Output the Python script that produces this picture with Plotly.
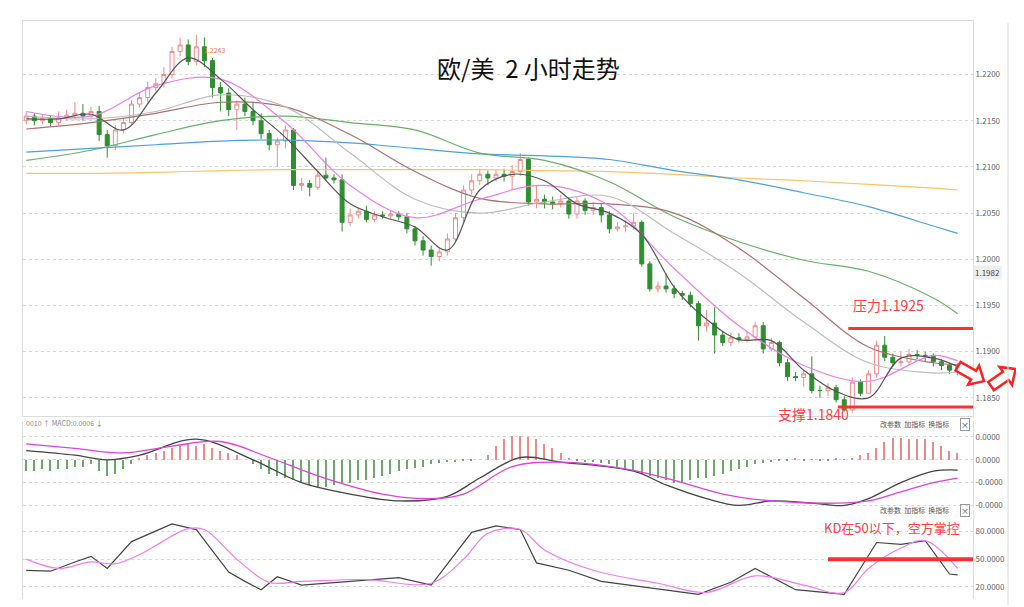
import math
import plotly.graph_objects as go

# --- candles (2h EUR/USD), open = previous close ---
closes = [1.2155, 1.2150, 1.2152, 1.2148, 1.2153, 1.2156, 1.2158, 1.2155, 1.2160, 1.2135,
          1.2123, 1.2140, 1.2148, 1.2168, 1.2175, 1.2186, 1.2190, 1.2200, 1.2225, 1.2232,
          1.2214, 1.2230, 1.2215, 1.2186, 1.2180, 1.2162, 1.2168, 1.2160, 1.2150, 1.2136,
          1.2124, 1.2128, 1.2140, 1.2080, 1.2082, 1.2078, 1.2091, 1.2088, 1.2086, 1.2040,
          1.2048, 1.2052, 1.2043, 1.2048, 1.2047, 1.2049, 1.2046, 1.2033, 1.2020, 1.2010,
          1.2003, 1.2008, 1.2022, 1.2045, 1.2075, 1.2085, 1.2092, 1.2088, 1.2092, 1.2090,
          1.2095, 1.2108, 1.2062, 1.2065, 1.2062, 1.2060, 1.2063, 1.2049, 1.2063, 1.2053,
          1.2056, 1.2048, 1.2033, 1.2035, 1.2036, 1.2040, 1.1995, 1.1968, 1.1971, 1.1968,
          1.1963, 1.1961, 1.1952, 1.1928, 1.1931, 1.1918, 1.1910, 1.1915, 1.1913, 1.1916,
          1.1928, 1.1903, 1.1910, 1.1888, 1.1873, 1.1872, 1.1876, 1.1858, 1.1858, 1.1861,
          1.1848, 1.1837, 1.1867, 1.1855, 1.1876, 1.1907, 1.1894, 1.1888, 1.1889, 1.1897,
          1.1896, 1.1895, 1.1889, 1.1885, 1.1880, 1.1884]
highs = [1.2160, 1.2158, 1.2156, 1.2155, 1.2160, 1.2162, 1.2170, 1.2168, 1.2165, 1.2166,
         1.2140, 1.2145, 1.2152, 1.2172, 1.2180, 1.2192, 1.2196, 1.2208, 1.2230, 1.2240,
         1.2238, 1.2243, 1.2240, 1.2218, 1.2192, 1.2185, 1.2172, 1.2175, 1.2170, 1.2158,
         1.2140, 1.2132, 1.2145, 1.2142, 1.2088, 1.2086, 1.2095, 1.2110, 1.2092, 1.2092,
         1.2055, 1.2056, 1.2058, 1.2052, 1.2052, 1.2053, 1.2052, 1.2050, 1.2036, 1.2025,
         1.2015, 1.2012, 1.2028, 1.2050, 1.2080, 1.2092, 1.2098, 1.2096, 1.2097, 1.2098,
         1.2102, 1.2115, 1.2110, 1.2080, 1.2070, 1.2068, 1.2070, 1.2066, 1.2067, 1.2066,
         1.2062, 1.2060, 1.2052, 1.2040, 1.2042, 1.2050, 1.2042, 1.1998, 1.1976, 1.1985,
         1.1972, 1.1966, 1.1965, 1.1955, 1.1945, 1.1948, 1.1922, 1.1920, 1.1920, 1.1922,
         1.1932, 1.1932, 1.1915, 1.1912, 1.1892, 1.1878, 1.1880, 1.1895, 1.1863, 1.1866,
         1.1864, 1.1852, 1.1872, 1.1870, 1.1880, 1.1912, 1.1917, 1.1898, 1.1900, 1.1903,
         1.1902, 1.1900, 1.1898, 1.1892, 1.1888, 1.1888]
lows = [1.2146, 1.2145, 1.2146, 1.2144, 1.2145, 1.2150, 1.2152, 1.2150, 1.2152, 1.2128,
        1.2110, 1.2118, 1.2136, 1.2145, 1.2164, 1.2170, 1.2182, 1.2186, 1.2196, 1.2220,
        1.2210, 1.2210, 1.2208, 1.2175, 1.2160, 1.2155, 1.2140, 1.2155, 1.2145, 1.2130,
        1.2118, 1.2100, 1.2120, 1.2075, 1.2074, 1.2068, 1.2075, 1.2085, 1.2082, 1.2030,
        1.2036, 1.2044, 1.2040, 1.2040, 1.2044, 1.2044, 1.2042, 1.2028, 1.2015, 1.2004,
        1.1993, 1.1998, 1.2004, 1.2018, 1.2040, 1.2070, 1.2080, 1.2080, 1.2084, 1.2084,
        1.2075, 1.2090, 1.2058, 1.2055, 1.2055, 1.2054, 1.2056, 1.2044, 1.2044, 1.2048,
        1.2048, 1.2040, 1.2028, 1.2030, 1.2030, 1.2032, 1.1992, 1.1965, 1.1964, 1.1964,
        1.1958, 1.1956, 1.1948, 1.1912, 1.1922, 1.1898, 1.1906, 1.1906, 1.1910, 1.1910,
        1.1912, 1.1898, 1.1900, 1.1884, 1.1868, 1.1868, 1.1862, 1.1855, 1.1850, 1.1852,
        1.1845, 1.1835, 1.1834, 1.1852, 1.1854, 1.1872, 1.1890, 1.1884, 1.1884, 1.1886,
        1.1892, 1.1890, 1.1884, 1.1880, 1.1876, 1.1874]
opens = [1.2150] + closes[:-1]
idx = list(range(len(closes)))

# --- moving averages read at sample candles ---
ma_idx = [0, 8, 16, 24, 32, 40, 48, 56, 64, 72, 80, 88, 96, 104, 112, 115]
ma_orange = [1.2093, 1.2093, 1.2094, 1.2096, 1.2097, 1.2097, 1.2097, 1.2097, 1.2096, 1.2095,
             1.2092, 1.2088, 1.2085, 1.2081, 1.2077, 1.2075]
ma_blue = [1.2116, 1.2120, 1.2124, 1.2128, 1.2129, 1.2126, 1.2120, 1.2114, 1.2112, 1.2108,
           1.2096, 1.2086, 1.2072, 1.2057, 1.2036, 1.2028]
ma_green = [1.2107, 1.2118, 1.2135, 1.2150, 1.2155, 1.2148, 1.2140, 1.2115, 1.2107, 1.2084,
            1.2046, 1.2019, 1.1999, 1.1987, 1.1958, 1.1941]
ma_brown = [1.2141, 1.2148, 1.2158, 1.2170, 1.2165, 1.2135, 1.2095, 1.2066, 1.2060, 1.2060,
            1.2050, 1.2012, 1.1958, 1.1905, 1.1888, 1.1886]
ma_grey = [1.2155, 1.2152, 1.2160, 1.2178, 1.2165, 1.2115, 1.2065, 1.2050, 1.2062, 1.2068,
           1.2028, 1.1985, 1.1932, 1.1888, 1.1877, 1.1878]
ma_pink = [1.2160, 1.2155, 1.2188, 1.2195, 1.2148, 1.2080, 1.2045, 1.2065, 1.2080, 1.2058,
           1.1990, 1.1928, 1.1885, 1.1868, 1.1896, 1.1890]
ma5_idx = [0, 4, 8, 12, 16, 20, 24, 28, 32, 36, 40, 44, 48, 52, 56, 60, 64, 68, 72, 76,
           80, 84, 88, 92, 96, 100, 104, 108, 112, 115]
ma5 = [1.2152, 1.2152, 1.2157, 1.2140, 1.2180, 1.2218, 1.2195, 1.2162, 1.2132, 1.2095,
       1.2060, 1.2046, 1.2035, 1.2010, 1.2075, 1.2092, 1.2085, 1.2060, 1.2050, 1.2027,
       1.1970, 1.1935, 1.1913, 1.1912, 1.1880, 1.1857, 1.1850, 1.1893, 1.1893, 1.1884]

# --- MACD (scaled units) ---
dif_idx = [0, 6, 10, 14, 21, 28, 34, 40, 46, 52, 56, 61, 66, 75, 79, 84, 88, 92, 97, 101,
           104, 108, 112, 115]
dif = [0.4, 0.2, 0.0, 0.2, 0.9, 0.0, -1.0, -1.5, -1.8, -1.6, -0.8, 0.1, -0.1, -0.5, -1.1,
       -1.7, -2.0, -1.8, -1.9, -2.0, -1.7, -1.0, -0.5, -0.45]
dea_idx = [0, 6, 12, 18, 24, 30, 36, 44, 50, 54, 60, 66, 74, 80, 86, 92, 100, 104, 108,
           112, 115]
dea = [0.7, 0.5, 0.3, 0.6, 0.8, 0.1, -0.7, -1.5, -1.7, -1.5, -0.3, -0.1, -0.4, -0.9, -1.5,
       -1.8, -1.9, -1.8, -1.4, -1.0, -0.8]
macd_hist = [-0.5, -0.5, -0.4, -0.5, -0.4, -0.4, -0.3, -0.3, -0.2, -0.5, -0.7, -0.6, -0.4, -0.2,
             0.1, 0.2, 0.3, 0.4, 0.5, 0.6, 0.7, 0.6, 0.7, 0.5, 0.4, 0.3, 0.2, 0.0,
             -0.2, -0.4, -0.6, -0.7, -0.8, -0.9, -1.0, -1.1, -1.2, -1.2, -1.1, -1.0, -1.0, -0.9,
             -0.9, -0.8, -0.7, -0.6, -0.5, -0.4, -0.35, -0.3, -0.2, -0.15, -0.1, -0.1, -0.05,
             -0.05, 0.0,
             0.2, 0.6, 0.9, 1.05, 1.05, 1.0, 0.9, 0.7, 0.5, 0.3, 0.1,
             -0.05, -0.1, -0.1, -0.15, -0.2, -0.3, -0.4, -0.5, -0.6, -0.7, -0.8, -0.9, -1.0,
             -1.0, -0.9, -0.8, -0.8, -0.7, -0.6, -0.5, -0.4, -0.3, -0.2, -0.15, -0.1, -0.05,
             -0.05, 0.05, -0.05, 0.02,
             -0.05, -0.05, 0.05, 0.02, 0.1, 0.2, 0.3,
             0.5, 0.8, 0.95, 0.95, 0.9, 0.9, 0.9, 0.8, 0.6, 0.4, 0.3]

# --- KD ---
k_idx = [0, 3, 6, 8, 10, 13, 18, 21, 25, 27, 29, 31, 34, 40, 46, 50, 55, 58, 61, 63, 67,
         71, 79, 83, 87, 90, 95, 101, 105, 108, 111, 114, 115]
k_val = [38, 37, 47, 53, 40, 69, 88, 82, 36, 26, 17, 31, 22, 26, 30, 22, 79, 86, 82, 46, 38,
         26, 17, 12, 25, 40, 17, 12, 68, 66, 70, 34, 33]
d_idx = [0, 4, 8, 11, 14, 20, 22, 26, 30, 34, 42, 50, 54, 57, 61, 64, 70, 78, 84, 90, 96,
         101, 104, 108, 111, 115]
d_val = [50, 40, 47, 45, 55, 83, 82, 50, 25, 26, 28, 24, 50, 78, 82, 60, 38, 24, 14, 32, 22,
         14, 40, 62, 70, 40]

price_ticks = [1.1850, 1.1900, 1.1950, 1.2000, 1.2050, 1.2100, 1.2150, 1.2200]

fig = go.Figure()
fig.add_trace(go.Candlestick(
    x=idx, open=opens, high=highs, low=lows, close=closes, xaxis="x", yaxis="y",
    increasing=dict(line=dict(color="#f08a8a", width=1), fillcolor="white"),
    decreasing=dict(line=dict(color="#2f8f2f", width=1), fillcolor="#2f8f2f"),
    whiskerwidth=0, showlegend=False))

for xs, ys, col in [(ma_idx, ma_orange, "#ffc266"), (ma_idx, ma_blue, "#4aa3df"),
                    (ma_idx, ma_green, "#66b266"), (ma_idx, ma_brown, "#b07070"),
                    (ma_idx, ma_grey, "#bdbdbd"), (ma_idx, ma_pink, "#f07cf0"),
                    (ma5_idx, ma5, "#555555")]:
    fig.add_trace(go.Scatter(x=xs, y=ys, mode="lines", line=dict(color=col, width=1.2, shape="spline"),
                             xaxis="x", yaxis="y", showlegend=False, hoverinfo="skip"))

fig.add_trace(go.Bar(x=idx, y=macd_hist, width=0.18, xaxis="x", yaxis="y2",
                     marker=dict(color=["#f08a8a" if v > 0 else "#6aaa6a" for v in macd_hist], line_width=0),
                     showlegend=False))
fig.add_trace(go.Scatter(x=dif_idx, y=dif, mode="lines", line=dict(color="#444444", width=1.3, shape="spline"),
                         xaxis="x", yaxis="y2", showlegend=False))
fig.add_trace(go.Scatter(x=dea_idx, y=dea, mode="lines", line=dict(color="#e040e0", width=1.3, shape="spline"),
                         xaxis="x", yaxis="y2", showlegend=False))
fig.add_trace(go.Scatter(x=k_idx, y=k_val, mode="lines", line=dict(color="#444444", width=1.2),
                         xaxis="x", yaxis="y3", showlegend=False))
fig.add_trace(go.Scatter(x=d_idx, y=d_val, mode="lines", line=dict(color="#f07cf0", width=1.2, shape="spline"),
                         xaxis="x", yaxis="y3", showlegend=False))

# support / resistance / KD 50 lines
fig.add_trace(go.Scatter(x=[101.5, 116.9], y=[1.1925, 1.1925], mode="lines", line=dict(color="#ff3030", width=3),
                         xaxis="x", yaxis="y", showlegend=False))
fig.add_trace(go.Scatter(x=[100.2, 116.9], y=[1.1840, 1.1840], mode="lines", line=dict(color="#ff3030", width=3),
                         xaxis="x", yaxis="y", showlegend=False))
fig.add_trace(go.Scatter(x=[99, 116.9], y=[50, 50], mode="lines", line=dict(color="#ff3030", width=4),
                         xaxis="x", yaxis="y3", showlegend=False))

ax = dict(showgrid=True, gridcolor="#d8d8d8", griddash="dot", zeroline=False, side="right",
          tickfont=dict(size=8, color="#666666"), showline=True, linecolor="#dddddd", mirror=True, ticks="")
fig.update_layout(
    width=1024, height=607, margin=dict(l=0, r=0, t=0, b=0),
    paper_bgcolor="white", plot_bgcolor="white", bargap=0,
    font=dict(family="Noto Sans CJK SC"),
    xaxis=dict(domain=[15 / 1024, 965 / 1024], range=[-0.4, 116.9], showticklabels=False,
               showgrid=False, zeroline=False, rangeslider=dict(visible=False),
               showline=True, linecolor="#dddddd", mirror=True),
    yaxis=dict(ax, domain=[1 - 410 / 607, 1 - 13 / 607], range=[1.18304, 1.2258],
               tickvals=price_ticks, ticktext=["%.4f" % v for v in price_ticks]),
    yaxis2=dict(ax, domain=[1 - 502 / 607, 1 - 415 / 607], range=[-2.09, 1.7],
                tickvals=[1, 0, -1, -2], ticktext=["0.0000", "0.0000", "-0.0000", "-0.0000"]),
    yaxis3=dict(ax, domain=[1 - 594 / 607, 1 - 506 / 607], range=[6.9, 101.5],
                tickvals=[80, 50, 20], ticktext=["80.0000", "50.0000", "20.0000"]),
)

red = "#ff4040"
anns = [
    dict(x=520 / 1024, y=1 - 40 / 607, text="欧/美  2 小时走势", font=dict(size=24, color="#111111")),
    dict(x=880 / 1024, y=1 - 298 / 607, text="压力1.1925", font=dict(size=14, color=red)),
    dict(x=805 / 1024, y=1 - 420 / 607, text="支撑1.1840", font=dict(size=14, color=red)),
    dict(x=884 / 1024, y=1 - 534 / 607, text="KD在50以下，空方掌控", font=dict(size=13, color=red)),
    dict(x=206 / 1024, y=1 - 35 / 607, text="1.2243", font=dict(size=7, color="#f08040")),
    dict(x=979 / 1024, y=1 - 266 / 607, text="1.1982", font=dict(size=8, color="#444444"), bgcolor="#eeeeee"),
    dict(x=16 / 1024, y=1 - 424 / 607, text="0010 ↑ MACD:0.0006 ↓", xanchor="left",
         font=dict(size=7, color="#888888")),
    dict(x=906 / 1024, y=1 - 425 / 607, text="改参数  加指标  换指标", font=dict(size=7, color="#555555")),
    dict(x=906 / 1024, y=1 - 512 / 607, text="改参数  加指标  换指标", font=dict(size=7, color="#555555")),
    dict(x=957 / 1024, y=1 - 425 / 607, text="×", font=dict(size=8, color="#555555"),
         bordercolor="#999999", borderwidth=1, borderpad=0),
    dict(x=957 / 1024, y=1 - 512 / 607, text="×", font=dict(size=8, color="#555555"),
         bordercolor="#999999", borderwidth=1, borderpad=0),
]
for a in anns:
    a.setdefault("xanchor", "center")
    fig.add_annotation(xref="paper", yref="paper", showarrow=False, **a)


def arrow_path(x0, y0, ang):
    # outline arrow in pixel coords, rotated by ang degrees (screen y down)
    pts = [(0, -5), (18, -5), (18, -11), (30, 0), (18, 11), (18, 5), (0, 5)]
    c, s = math.cos(math.radians(ang)), math.sin(math.radians(ang))
    out = []
    for px, py in pts:
        X = x0 + px * c - py * s
        Y = y0 + px * s + py * c
        out.append("%.4f %.4f" % (X / 1024, 1 - Y / 607))
    return "M " + " L ".join(out) + " Z"


fig.add_shape(type="path", xref="paper", yref="paper", path=arrow_path(950, 360, 30),
              line=dict(color="#ff2020", width=2.5), fillcolor="white")
fig.add_shape(type="path", xref="paper", yref="paper", path=arrow_path(983, 380, -35),
              line=dict(color="#ff2020", width=2.5), fillcolor="white")
fig.add_shape(type="line", xref="paper", yref="paper", x0=1000 / 1024, x1=1000 / 1024,
              y0=1 - 600 / 607, y1=1 - 15 / 607, line=dict(color="#dddddd", width=1))

fig.write_html("out.html")
